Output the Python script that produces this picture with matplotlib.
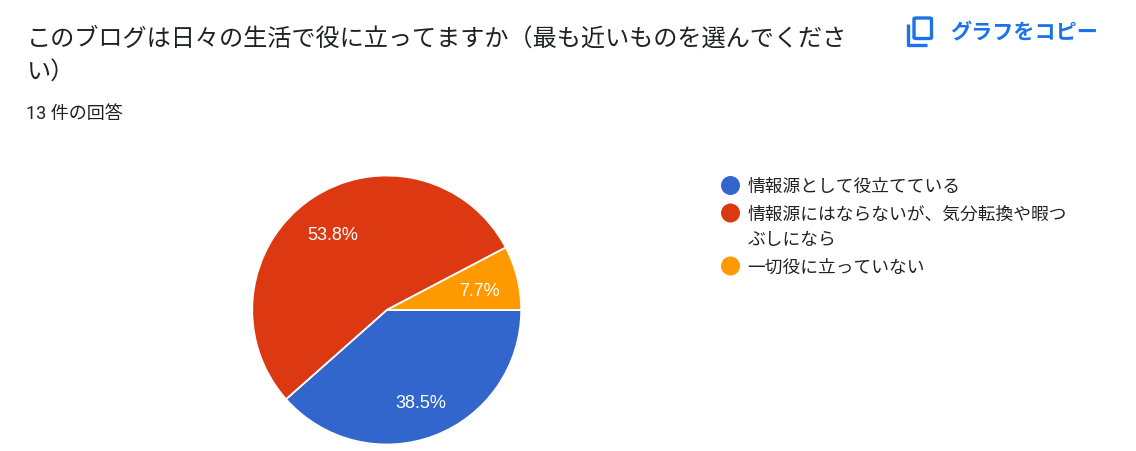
import matplotlib
matplotlib.use("Agg")
import matplotlib.pyplot as plt
from matplotlib.patches import Circle, FancyBboxPatch
from matplotlib.lines import Line2D
from matplotlib.transforms import IdentityTransform, offset_copy

plt.rcParams['font.family'] = ['Noto Sans CJK JP', 'DejaVu Sans']

# ---- data ----
title_line1 = "このブログは日々の生活で役に立ってますか（最も近いものを選んでくださ"
title_line2 = "い）"
subtitle = "13 件の回答"
copy_label = "グラフをコピー"
categories = ["情報源として役立てている",
              "情報源にはならないが、気分転換や暇つ\nぶしになら",
              "一切役に立っていない"]
counts = [5, 7, 1]
colors = ["#3366CC", "#DC3912", "#FF9900"]

W, H = 1136, 452
fig = plt.figure(figsize=(W / 100, H / 100), dpi=100)
fig.patch.set_facecolor("white")


def P(x, y):
    return (x / W, 1 - y / H)


# ---- pie ----
cx, cy, r = 386.7, 311.0, 134.5
ax = fig.add_axes([(cx - r) / W, (H - cy - r) / H, 2 * r / W, 2 * r / H])
wedges, texts, autotexts = ax.pie(
    counts, colors=colors, startangle=0, counterclock=False,
    autopct="%1.1f%%", pctdistance=0.71, radius=1.0,
    wedgeprops=dict(edgecolor="white", linewidth=1.3),
    textprops=dict(color="white", fontsize=13, family=["Liberation Sans", "DejaVu Sans"]))
ax.set_xlim(-1, 1)
ax.set_ylim(-1, 1)
ax.set_aspect("equal")
ax.axis("off")
for t in autotexts:
    t.set_transform(offset_copy(ax.transData, fig=fig, x=0, y=-3.5, units="dots"))

# ---- titles ----
fig.text(*P(27, 38.5), title_line1, fontsize=17.4, color="#202124", va="center", ha="left")
fig.text(*P(27, 72), title_line2, fontsize=17.4, color="#202124", va="center", ha="left")
fig.text(*P(26, 114.5), subtitle, fontsize=13, color="#202124", va="center", ha="left",
         family=["Roboto", "Noto Sans CJK JP"])

# ---- copy button ----
blue = "#1A73E8"
fig.text(*P(950, 32.5), copy_label, fontsize=15.2, color=blue, weight="bold", va="center", ha="left")
fig.add_artist(Line2D([907.5 / W, 907.5 / W, 927 / W], [1 - 25 / H, 1 - 46 / H, 1 - 46 / H],
                      color=blue, linewidth=2.4, solid_capstyle="butt", solid_joinstyle="round"))
fig.add_artist(FancyBboxPatch((914 / W, 1 - 39.5 / H), 17.5 / W, 20.5 / H,
                              boxstyle="round,pad=0,rounding_size=0.002",
                              transform=fig.transFigure, fill=False,
                              edgecolor=blue, linewidth=2.4))

# ---- legend ----
legend_y = [186.5, 214, 267]
text_y = [187, 227.5, 267.5]
for col, ly in zip(colors, legend_y):
    fig.add_artist(Circle((730.5, H - ly), 9.5, transform=IdentityTransform(),
                          facecolor=col, edgecolor="none"))
for cat, ty in zip(categories, text_y):
    fig.text(*P(747.5, ty), cat, fontsize=12.75, color="#222222", va="center", ha="left",
             linespacing=1.5)

fig.savefig("out.png", dpi=100)
